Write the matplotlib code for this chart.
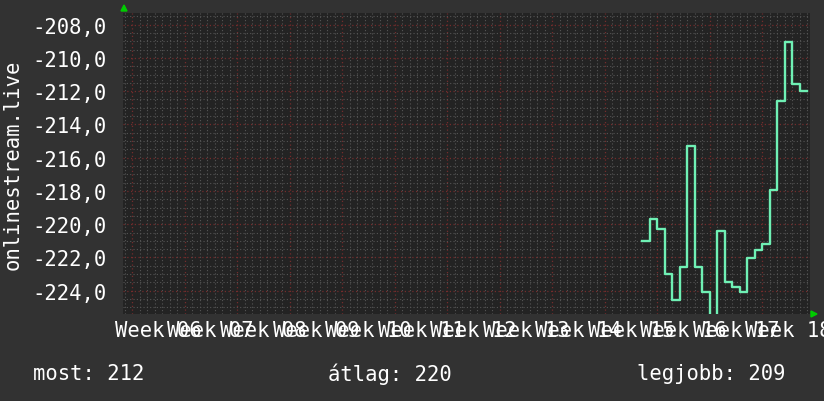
import matplotlib
matplotlib.use("Agg")
import matplotlib.pyplot as plt
from matplotlib.patches import Polygon
from matplotlib.ticker import MultipleLocator, NullFormatter, FuncFormatter

# --- données (valeur par jour, jours comptés depuis le début de la semaine 06) ---
jours = list(range(68, 91))
valeurs = [-221.0, -219.7, -220.3, -223.0, -224.56, -222.56, -215.3, -222.6,
           -224.1, -225.8, -220.4, -223.5, -223.8, -224.1, -222.06, -221.56,
           -221.2, -217.94, -212.6, -209.06, -211.56, -212.0]
semaines = ["Week %02d" % s for s in range(6, 19)]
legende = ["most: 212", "átlag: 220", "legjobb: 209"]
titre_y = "onlinestream.live"

fond = "#323232"
fond_graphe = "#232323"
police = "DejaVu Sans Mono"
taille = 14.8

fig = plt.figure(figsize=(8.24, 4.02), dpi=100, facecolor=fond)
# zone du graphe en pixels : x 123..810, y 14..315
ax = fig.add_axes([123 / 824, 1 - 315 / 402, (810 - 123) / 824, (315 - 14) / 402])
ax.set_facecolor(fond_graphe)

ymin, ymax = -225.4, -207.3
ax.set_xlim(-1.2, 90.36)
ax.set_ylim(ymin, ymax)

# grille façon rrdtool : un jour / une semaine, 0,5 / 2 unités
ax.xaxis.set_minor_locator(MultipleLocator(1))
ax.xaxis.set_major_locator(MultipleLocator(7))
ax.yaxis.set_minor_locator(MultipleLocator(0.5))
ax.yaxis.set_major_locator(MultipleLocator(2))
ax.grid(which="minor", color="#555555", linestyle=(0, (1, 2)), linewidth=0.8)
ax.grid(which="major", color="#742c2c", linestyle=(0, (1, 2)), linewidth=0.9)
ax.set_axisbelow(True)

for s in ax.spines.values():
    s.set_visible(False)

ax.tick_params(which="both", length=0)
ax.xaxis.set_major_formatter(NullFormatter())
ax.yaxis.set_major_formatter(FuncFormatter(lambda v, p: ("%.1f" % v).replace(".", ",")))
ax.tick_params(axis="y", which="major", pad=12, labelsize=taille, labelcolor="white")
for t in ax.yaxis.get_major_ticks():
    t.label1.set_fontfamily(police)

# étiquettes des semaines centrées entre deux lignes majeures
for i, txt in enumerate(semaines):
    ax.text(3.5 + 7 * i, ymin - 0.95, txt, ha="center", va="center",
            fontsize=taille, family=police, color="white", clip_on=False)

# courbe en escalier
ax.step(jours, valeurs + [valeurs[-1]], where="post", color="#6ff0b4", linewidth=1.7)

# petites flèches vertes au bout des axes
fig.patches.append(Polygon(
    [[121 / 824, 1 - 12 / 402], [127 / 824, 1 - 12 / 402], [124 / 824, 1 - 6 / 402]],
    closed=True, transform=fig.transFigure, color="#00cc00"))
fig.patches.append(Polygon(
    [[811 / 824, 1 - 312 / 402], [811 / 824, 1 - 318 / 402], [817 / 824, 1 - 315 / 402]],
    closed=True, transform=fig.transFigure, color="#00cc00"))

fig.text(13 / 824, 1 - 165 / 402, titre_y, rotation=90, ha="center", va="center",
         fontsize=taille, family=police, color="white")

for x, txt in zip([33, 328, 637], legende):
    fig.text(x / 824, 1 - 374 / 402, txt, ha="left", va="center",
             fontsize=taille, family=police, color="white")

fig.savefig("out.png", dpi=100, facecolor=fond)
